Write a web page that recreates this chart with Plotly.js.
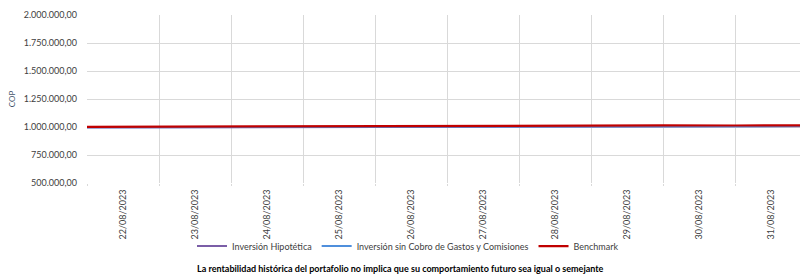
<!DOCTYPE html>
<html><head><meta charset="utf-8">
<script src="https://cdn.plot.ly/plotly-3.0.1.min.js"></script>
<style>html,body{margin:0;padding:0;background:#fff}#c{width:800px;height:280px}</style>
</head><body><div id="c"></div>
<script>
const dates = ["2023-08-22","2023-08-23","2023-08-24","2023-08-25","2023-08-26","2023-08-27","2023-08-28","2023-08-29","2023-08-30","2023-08-31","2023-09-01"];
const hipotetica = [996000,997500,998500,1000500,1001000,1001500,1003500,1005000,1006500,1007000,1007500];
const sinCobro   = [997000,998500,999500,1001500,1002000,1002500,1004500,1006000,1007500,1008000,1008500];
const benchmark  = [1002000,1004000,1005500,1007500,1008000,1008500,1010500,1012500,1014000,1013500,1014000];
const yTicks = [500000,750000,1000000,1250000,1500000,1750000,2000000];
const note = "La rentabilidad histórica del portafolio no implica que su comportamiento futuro sea igual o semejante";

const font = "Lato, 'Open Sans', sans-serif";
const traces = [
  {x: dates, y: hipotetica, name: "Inversión Hipotética", mode: "lines", line: {color: "#7b5ea7", width: 2}},
  {x: dates, y: sinCobro, name: "Inversión sin Cobro de Gastos y Comisiones", mode: "lines", line: {color: "#4f8fdc", width: 2}},
  {x: dates, y: benchmark, name: "Benchmark", mode: "lines", line: {color: "#c00000", width: 2.2}}
];
const layout = {
  width: 800, height: 280,
  margin: {l: 87, r: 0, t: 15, b: 97, autoexpand: false},
  paper_bgcolor: "#fff", plot_bgcolor: "#fff",
  separators: ",.",
  font: {family: font, size: 9, color: "#595959"},
  showlegend: true,
  legend: {orientation: "h", xref: "container", yref: "container", x: 0.51, xanchor: "center",
           y: 0.121, yanchor: "middle", bgcolor: "rgba(0,0,0,0)",
           font: {family: font, size: 9, color: "#404040"}, tracegroupgap: 0},
  xaxis: {
    type: "date", range: ["2023-08-22 00:00", "2023-08-31 21:30"],
    tick0: "2023-08-22", dtick: 86400000, ticklabelmode: "period",
    tickformat: "%d/%m/%Y", tickangle: -90,
    showgrid: true, gridcolor: "#d9d9d9", gridwidth: 1,
    showline: false, zeroline: false,
    ticks: "outside", ticklen: 2, tickcolor: "#d9d9d9",
    tickfont: {family: font, size: 9, color: "#404040"}
  },
  yaxis: {
    range: [500000, 2000000], tickvals: yTicks, tickformat: ",.2f",
    showgrid: true, gridcolor: "#d9d9d9", gridwidth: 1, zeroline: false, showline: false,
    ticklabelstandoff: 9,
    tickfont: {family: font, size: 9, color: "#404040"},
    title: {text: "COP", font: {family: font, size: 8, color: "#44546a"}, standoff: 6}
  },
  annotations: [{
    text: "<b>" + note + "</b>", xref: "paper", yref: "paper", x: 0.44, y: -0.506,
    xanchor: "center", yanchor: "middle", showarrow: false,
    font: {family: font, size: 9, color: "#000"}
  }]
};
Plotly.newPlot("c", traces, layout, {displayModeBar: false, staticPlot: true});
</script></body></html>
